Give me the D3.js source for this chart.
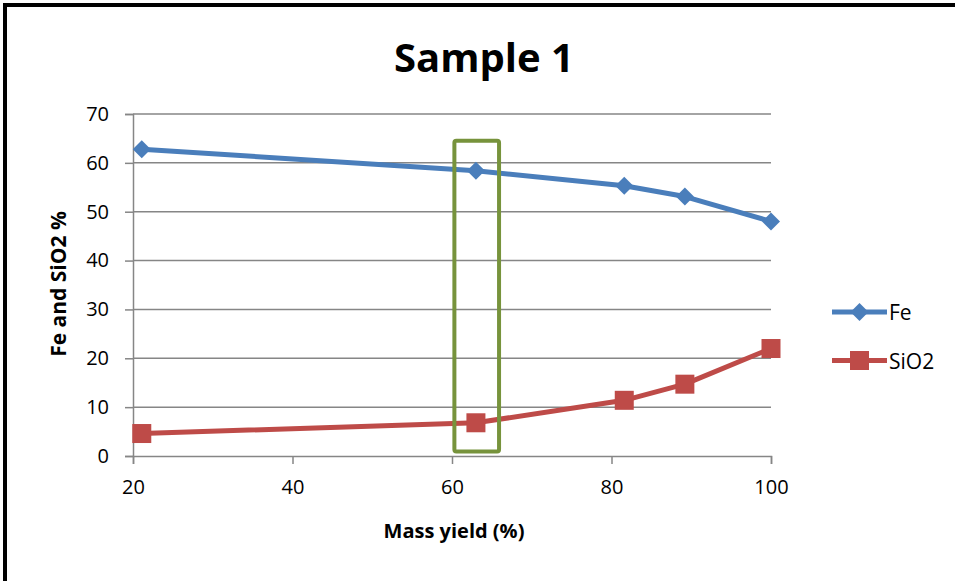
<!DOCTYPE html>
<html>
<head>
<meta charset="utf-8">
<script src="https://cdn.jsdelivr.net/npm/d3@7"></script>
<style>
  body { margin: 0; background: #fff; }
  text { font-family: "Open Sans", "Liberation Sans", sans-serif; }
</style>
</head>
<body>
<script>
// values
const massYield = [21.1, 63.0, 81.6, 89.2, 100];
const fe = [62.8, 58.4, 55.3, 53.1, 48.0];
const sio2 = [4.6, 6.8, 11.4, 14.7, 22.0];
const xTicks = [20, 40, 60, 80, 100];
const yTicks = [0, 10, 20, 30, 40, 50, 60, 70];
// highlight box round the 63 % point, in data units [x0, x1, y0, y1]
const highlight = [60.3, 65.9, 0.9, 64.5];

const width = 955;
const height = 581;

const svg = d3.select("body")
    .append("svg")
    .attr("width", width)
    .attr("height", height);

// outer frame (runs off the right and bottom of the picture)
svg.append("rect")
    .attr("x", 5).attr("y", 5)
    .attr("width", 1000).attr("height", 1000)
    .attr("fill", "none")
    .attr("stroke", "#000")
    .attr("stroke-width", 4);

const x = d3.scaleLinear().domain([20, 100]).range([133, 771]);
const y = d3.scaleLinear().domain([0, 70]).range([456, 114]);

// gridlines
svg.append("g")
    .selectAll("line")
    .data(yTicks.slice(1))
    .join("line")
    .attr("x1", x(20)).attr("x2", x(100))
    .attr("y1", d => y(d)).attr("y2", d => y(d))
    .attr("stroke", "#868686")
    .attr("stroke-width", 1.5);

const yAxis = svg.append("g")
    .attr("transform", `translate(${x(20)},0)`)
    .call(d3.axisLeft(y).tickValues(yTicks).tickSize(8).tickPadding(16));
const xAxis = svg.append("g")
    .attr("transform", `translate(0,${y(0)})`)
    .call(d3.axisBottom(x).tickValues(xTicks).tickSize(8).tickPadding(16));

[xAxis, yAxis].forEach(a => {
    a.select(".domain").attr("stroke", "#868686").attr("stroke-width", 1.5);
    a.selectAll(".tick line").attr("stroke", "#868686").attr("stroke-width", 1.5);
    a.selectAll(".tick text")
        .attr("fill", "#000")
        .style("font-size", "20px")
        .style("font-family", "'Open Sans', sans-serif");
});

const line = d3.line().x(d => x(d[0])).y(d => y(d[1]));
const diamond = s => `M0,${-s}L${s},0L0,${s}L${-s},0Z`;

const series = [
    { name: "Fe", values: fe, color: "#4A7EBB", shape: "diamond" },
    { name: "SiO2", values: sio2, color: "#BE4B48", shape: "square" }
];

function marker(g, s) {
    if (s.shape === "diamond") {
        g.append("path").attr("d", diamond(9)).attr("fill", s.color);
    } else {
        g.append("rect").attr("x", -9.5).attr("y", -9.5)
            .attr("width", 19).attr("height", 19)
            .attr("fill", s.color);
    }
}

series.forEach(s => {
    const pts = massYield.map((m, i) => [m, s.values[i]]);
    svg.append("path")
        .datum(pts)
        .attr("d", line)
        .attr("fill", "none")
        .attr("stroke", s.color)
        .attr("stroke-width", 5)
        .attr("stroke-linejoin", "round");
    svg.append("g")
        .selectAll("g")
        .data(pts)
        .join("g")
        .attr("transform", d => `translate(${x(d[0])},${y(d[1])})`)
        .each(function () { marker(d3.select(this), s); });
});

// green highlight box
svg.append("rect")
    .attr("x", x(highlight[0]))
    .attr("y", y(highlight[3]))
    .attr("width", x(highlight[1]) - x(highlight[0]))
    .attr("height", y(highlight[2]) - y(highlight[3]))
    .attr("rx", 2)
    .attr("fill", "none")
    .attr("stroke", "#77933C")
    .attr("stroke-width", 4);

// title and axis titles
svg.append("text")
    .attr("x", 484).attr("y", 72)
    .attr("text-anchor", "middle")
    .style("font-size", "40px").style("font-weight", "bold")
    .text("Sample 1");

svg.append("text")
    .attr("x", 454).attr("y", 538)
    .attr("text-anchor", "middle")
    .style("font-size", "20px").style("font-weight", "bold")
    .text("Mass yield (%)");

svg.append("text")
    .attr("transform", "translate(66,284) rotate(-90)")
    .attr("text-anchor", "middle")
    .style("font-size", "21px").style("font-weight", "bold")
    .text("Fe and SiO2 %");

// legend
const legend = svg.append("g")
    .selectAll("g")
    .data(series)
    .join("g")
    .attr("transform", (d, i) => `translate(832,${312 + i * 48.5})`);
legend.append("line")
    .attr("x1", 0).attr("x2", 55)
    .attr("stroke", d => d.color)
    .attr("stroke-width", 5);
legend.append("g")
    .attr("transform", "translate(27.5,0)")
    .each(function (d) { marker(d3.select(this), d); });
legend.append("text")
    .attr("x", 57).attr("y", 8)
    .style("font-size", "21px")
    .text(d => d.name);
</script>
</body>
</html>
